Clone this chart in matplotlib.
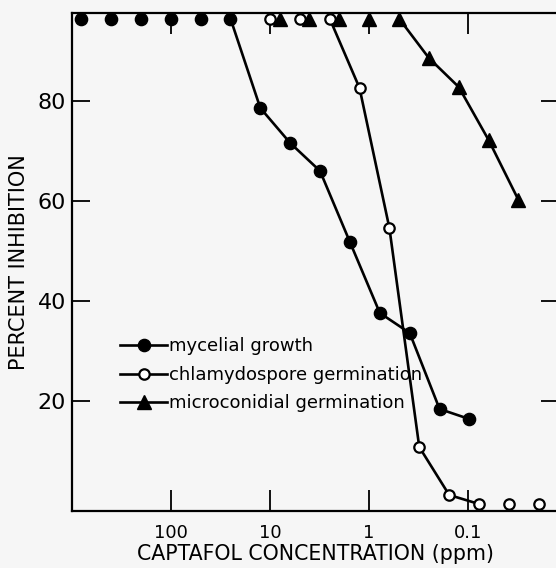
import numpy as np
import matplotlib.pyplot as plt

# captafol concentration (ppm) and percent inhibition
myc_conc = [800, 400, 200, 100, 50, 25, 12.5, 6.25, 3.125, 1.5625, 0.78, 0.39, 0.195, 0.098]
myc_inh = [96.5, 96.5, 96.5, 96.5, 96.5, 96.5, 78.6, 71.6, 66.0, 51.8, 37.6, 33.6, 18.4, 16.4]
myc_start = 5  # first point of the connected part of the curve

chl_conc = [10, 5, 2.5, 1.25, 0.625, 0.3125, 0.156, 0.078, 0.039, 0.0195]
chl_inh = [96.5, 96.5, 96.5, 82.6, 54.6, 10.8, 1.2, -0.6, -0.6, -0.6]
chl_start = 2
chl_end = 8

mic_conc = [8, 4, 2, 1, 0.5, 0.25, 0.125, 0.0625, 0.03125]
mic_inh = [96.5, 96.5, 96.5, 96.5, 96.5, 88.6, 82.8, 72.2, 60.2]
mic_start = 4

xticks = [100, 10, 1, 0.1]
xtick_labels = ['100', '10', '1', '0.1']
yticks = [20, 40, 60, 80]

W, H = 556, 568
fig = plt.figure(figsize=(W / 100, H / 100), dpi=100)
fig.patch.set_facecolor('#f6f6f6')
ax = fig.add_axes([71.5 / W, 1 - 511 / H, (559 - 71.5) / W, (511 - 13) / H])
ax.set_facecolor('#f6f6f6')

lw = 1.9
k = 'black'

# mycelial growth
ax.plot(myc_conc[:myc_start], myc_inh[:myc_start], ls='none', marker='o', ms=8.8, color=k)
ax.plot(myc_conc[myc_start:], myc_inh[myc_start:], '-', marker='o', ms=8.8, color=k, lw=lw,
        label='mycelial growth')

# chlamydospore germination
ax.plot(chl_conc[:chl_start], chl_inh[:chl_start], ls='none', marker='o', ms=7.5,
        mfc='white', mec=k, mew=1.6)
ax.plot(chl_conc[chl_start:chl_end], chl_inh[chl_start:chl_end], '-', marker='o', ms=7.5,
        mfc='white', mec=k, mew=1.6, color=k, lw=lw, label='chlamydospore germination')
ax.plot(chl_conc[chl_end:], chl_inh[chl_end:], ls='none', marker='o', ms=7.5,
        mfc='white', mec=k, mew=1.6)

# microconidial germination
ax.plot(mic_conc[:mic_start], mic_inh[:mic_start], ls='none', marker='^', ms=10, color=k)
ax.plot(mic_conc[mic_start:], mic_inh[mic_start:], '-', marker='^', ms=10, color=k, lw=lw,
        label='microconidial germination')

ax.set_xscale('log')
ax.set_xlim(1000, 0.0122)
ax.set_ylim(-2, 97.6)

ax.set_xticks(xticks)
ax.set_xticklabels(xtick_labels)
ax.xaxis.set_minor_locator(plt.NullLocator())
ax.set_yticks(yticks)

ax.tick_params(axis='x', which='major', direction='in', length=15, width=1.3,
               top=True, bottom=True, labelsize=13, pad=9)
ax.tick_params(axis='y', which='major', direction='in', length=13, width=1.3,
               left=True, right=True, labelsize=16, pad=4)
for s in ax.spines.values():
    s.set_linewidth(1.6)

ax.set_xlabel('CAPTAFOL CONCENTRATION (ppm)', fontsize=14.8, labelpad=2)
ax.set_ylabel('PERCENT INHIBITION', fontsize=15, labelpad=6)

ax.legend(loc='upper left', bbox_to_anchor=(0.085, 0.363), frameon=False, fontsize=13,
          handlelength=2.6, handletextpad=0.1, labelspacing=0.58, numpoints=1,
          borderaxespad=0)

fig.savefig('out.png', dpi=100, facecolor=fig.get_facecolor())
